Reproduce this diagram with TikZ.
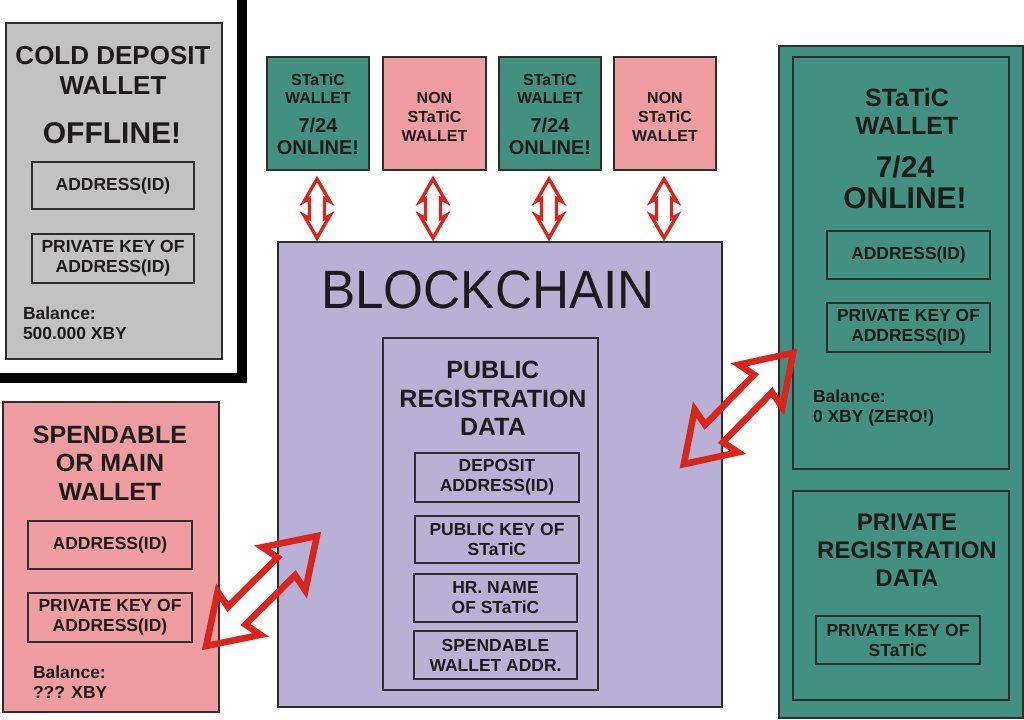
\documentclass[tikz,border=0pt]{standalone}
\usepackage{fontspec}
\setmainfont{Liberation Sans}
\definecolor{cgray}{RGB}{194,194,194}
\definecolor{cpink}{RGB}{240,157,162}
\definecolor{cteal}{RGB}{66,145,128}
\definecolor{clav}{RGB}{184,177,213}
\definecolor{cred}{RGB}{218,37,29}
\definecolor{cline}{RGB}{45,45,45}
\definecolor{ctext}{RGB}{28,26,26}
\tikzset{
  frame/.style={draw=cline, line width=0.9pt, inner sep=0pt, outer sep=0pt, text=ctext, align=center},
  W/.style={minimum width=#1*0.75pt},
  H/.style={minimum height=#1*0.75pt},
  lbl/.style={inner sep=0pt, outer sep=0pt, align=center, text=ctext},
  cellfont/.style={font=\fontsize{13.1pt}{15pt}\selectfont\bfseries},
  balfont/.style={font=\fontsize{13.1pt}{15pt}\selectfont\bfseries},
  arrline/.style={draw=cred, line join=miter},
  bigarrow/.pic={\draw[arrline, line width=4.9pt] (78,0) -- (31.5,30.5) -- (35,12.5) -- (-35,12.5) -- (-31.5,30.5) -- (-78,0) -- (-31.5,-30.5) -- (-35,-12.5) -- (35,-12.5) -- (31.5,-30.5) -- cycle;},
  smallarrow/.pic={\draw[arrline, fill=white, line width=2.5pt] (29.5,0) -- (7,13) -- (10,7.5) -- (-10,7.5) -- (-7,13) -- (-29.5,0) -- (-7,-13) -- (-10,-7.5) -- (10,-7.5) -- (7,-13) -- cycle;},
}
\begin{document}
\begin{tikzpicture}[x=0.75pt,y=-0.75pt]
\useasboundingbox[fill=white] (0,0) rectangle (1024,719);

% ---------- cold deposit wallet ----------
\draw[line width=7.5pt, line join=miter] (242,-5) -- (242,378) -- (-5,378);
\node[frame, fill=cgray, W=216, H=336] (cold) at (114,191) {};
\node[lbl, font=\fontsize{19.5pt}{22.5pt}\selectfont\bfseries] (coldt) at (113,70) {COLD DEPOSIT\\WALLET};
\node[lbl, font=\fontsize{22.5pt}{24pt}\selectfont\bfseries] (offl) at (112,133) {OFFLINE!};
\node[frame, cellfont, W=162, H=47] (addr1) at (113,185.5) {ADDRESS(ID)};
\node[frame, cellfont, W=162, H=49] (pk1) at (113,258.5) {PRIVATE KEY OF\\ADDRESS(ID)};
\node[lbl, balfont, align=left, anchor=west] (bal1) at (23,323) {Balance:\\500.000 XBY};

% ---------- spendable wallet ----------
\node[frame, fill=cpink, W=216, H=310] (spend) at (111,557) {};
\node[lbl, font=\fontsize{18.75pt}{21.4pt}\selectfont\bfseries] (spendt) at (110,463) {SPENDABLE\\OR MAIN\\WALLET};
\node[frame, cellfont, W=164, H=48] (addr2) at (110,545) {ADDRESS(ID)};
\node[frame, cellfont, W=164, H=49] (pk2) at (110,617.5) {PRIVATE KEY OF\\ADDRESS(ID)};
\node[lbl, balfont, align=left, anchor=west] (bal2) at (33,682.5) {Balance:\\??? XBY};

% ---------- top wallets ----------
\node[frame, fill=cteal, W=102, H=113] (tw1) at (318,113.5) {};
\node[lbl, font=\fontsize{12pt}{13.5pt}\selectfont\bfseries] (tw1a) at (318,89) {STaTiC\\WALLET};
\node[lbl, font=\fontsize{15pt}{16.5pt}\selectfont\bfseries] (tw1b) at (318,136) {7/24\\ONLINE!};
\node[frame, fill=cpink, W=103, H=113] (tw2) at (434.5,113.5) {};
\node[lbl, font=\fontsize{12pt}{14.25pt}\selectfont\bfseries] (tw2a) at (434.5,117) {NON\\STaTiC\\WALLET};
\node[frame, fill=cteal, W=102, H=113] (tw3) at (550,113.5) {};
\node[lbl, font=\fontsize{12pt}{13.5pt}\selectfont\bfseries] (tw3a) at (550,89) {STaTiC\\WALLET};
\node[lbl, font=\fontsize{15pt}{16.5pt}\selectfont\bfseries] (tw3b) at (550,136) {7/24\\ONLINE!};
\node[frame, fill=cpink, W=102, H=113] (tw4) at (665,113.5) {};
\node[lbl, font=\fontsize{12pt}{14.25pt}\selectfont\bfseries] (tw4a) at (665,117) {NON\\STaTiC\\WALLET};

% ---------- blockchain ----------
\node[frame, fill=clav, W=444, H=465] (bc) at (500,474.5) {};
\node[lbl, font=\fontsize{40.5pt}{42pt}\selectfont, xscale=0.95, transform shape] (bct) at (488,290) {BLOCKCHAIN};
\node[frame, W=215, H=352] (pub) at (490.5,514) {};
\node[lbl, font=\fontsize{18.75pt}{21.4pt}\selectfont\bfseries] (pubt) at (493,398.5) {PUBLIC\\REGISTRATION\\DATA};
\node[frame, cellfont, W=164, H=49] (dep) at (497,477.5) {DEPOSIT\\ADDRESS(ID)};
\node[frame, cellfont, W=164, H=47] (pubk) at (497,539.5) {PUBLIC KEY OF\\STaTiC};
\node[frame, cellfont, W=163, H=48] (hrn) at (495.5,598) {HR. NAME\\OF STaTiC};
\node[frame, cellfont, W=163, H=48] (spw) at (495.5,655) {SPENDABLE\\WALLET ADDR.};

% ---------- right static wallet ----------
\node[frame, fill=cteal, W=244, H=672] (rw) at (901,382) {};
\node[frame, W=216, H=412] (rin) at (901,263) {};
\node[lbl, font=\fontsize{18.75pt}{21pt}\selectfont\bfseries] (rwa) at (907,111) {STaTiC\\WALLET};
\node[lbl, font=\fontsize{22.5pt}{23.25pt}\selectfont\bfseries] (rwb) at (905,182.5) {7/24\\ONLINE!};
\node[frame, cellfont, W=163, H=48] (addr3) at (908.5,255) {ADDRESS(ID)};
\node[frame, cellfont, W=163, H=49] (pk3) at (908.5,327.5) {PRIVATE KEY OF\\ADDRESS(ID)};
\node[lbl, balfont, align=left, anchor=west] (bal3) at (813,408) {Balance:\\0 XBY (ZERO!)};
\node[frame, W=216, H=209] (priv) at (901,595.5) {};
\node[lbl, font=\fontsize{18pt}{21pt}\selectfont\bfseries] (privt) at (907,550) {PRIVATE\\REGISTRATION\\DATA};
\node[frame, cellfont, W=164, H=48] (pks) at (898,640) {PRIVATE KEY OF\\STaTiC};

% ---------- arrows ----------
\pic[rotate=90] (a1) at (317,208.5) {smallarrow};
\pic[rotate=90] (a2) at (433,208.5) {smallarrow};
\pic[rotate=90] (a3) at (549,208.5) {smallarrow};
\pic[rotate=90] (a4) at (664,208.5) {smallarrow};
\pic[rotate=45.5] (ar) at (738.5,408.5) {bigarrow};
\pic[rotate=44.8] (al) at (261.5,591) {bigarrow};
\end{tikzpicture}
\end{document}
